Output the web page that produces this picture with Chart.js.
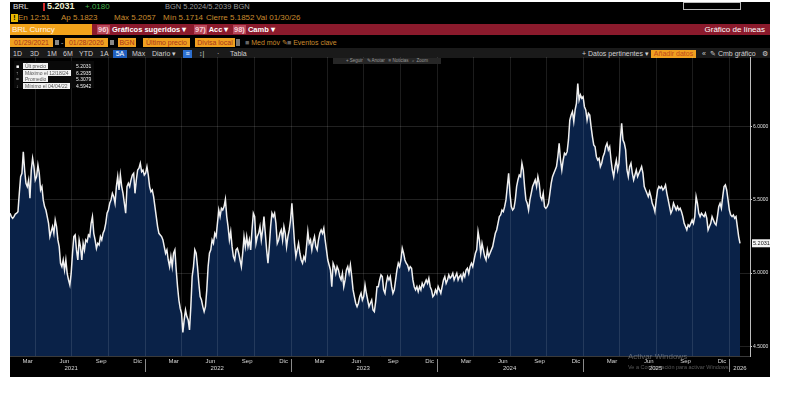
<!DOCTYPE html>
<html lang="es">
<head>
<meta charset="utf-8">
<title>BRL Curncy - Gráfico de líneas</title>
<script src="https://cdn.jsdelivr.net/npm/chart.js@4.4.1/dist/chart.umd.min.js"></script>
<style>
  html, body { margin: 0; padding: 0; background: #fff; }
  body { width: 800px; height: 393px; position: relative; overflow: hidden; font-family: 'Liberation Sans', Arial, sans-serif; }
  #term { position: absolute; left: 10px; top: 2px; width: 760px; height: 375px; background: #000; overflow: hidden; }
  .t { position: absolute; white-space: nowrap; line-height: 1; }
  .amb { color: #c98b2e; }
  .box { position: absolute; background: #f0a020; color: #a8341a; font-size: 7px; line-height: 9px; height: 9px; text-align: center; white-space: nowrap; }
  .r5 { position: absolute; top: 48px; color: #d0d0d0; font-size: 7px; line-height: 8px; white-space: nowrap; }
  #redbar { position: absolute; left: 0; top: 22px; width: 760px; height: 11px; background: #8b1a2c; }
  #row5 { position: absolute; left: 0; top: 46px; width: 760px; height: 10px; background: #1a1a1a; }
  #chartWrap { position: absolute; left: 0; top: 55px; width: 760px; height: 320px; }
  #legendBox { position: absolute; left: 4px; top: 4px; width: 80px; height: 27px; background: rgba(10,10,10,0.85); }
  .lg { position: absolute; left: 0; height: 6px; width: 80px; font-size: 5px; line-height: 6px; }
  .lg .mk { position: absolute; left: 2px; width: 5px; color: #aaa; }
  .lg .lb { position: absolute; left: 9px; background: #f2f2f2; color: #555; padding: 0 2px; }
  .lg .vl { position: absolute; left: 62px; color: #f0f0f0; }
  #tools { position: absolute; left: 323px; top: 1px; width: 108px; height: 6px; background: #262626; color: #9a9a9a; font-size: 4.5px; line-height: 6px; text-align: center; white-space: nowrap; }
  .wm { position: absolute; color: rgba(190,190,190,0.45); white-space: nowrap; }
  .rb { position: absolute; top: 24px; font-size: 7.5px; font-weight: bold; color: #fff; white-space: nowrap; line-height: 1; }
  .rb span { background: #b8485a; color: #f6d0d6; padding: 0 1px; }
</style>
</head>
<body>
<div id="term">
  <!-- fila 1 -->
  <div class="t" style="left:3px;top:1px;font-size:8px;color:#e0e0e0;">BRL</div>
  <div style="position:absolute;left:33px;top:1px;width:2px;height:8px;background:#d42a2a;"></div>
  <div class="t" style="left:37px;top:0px;font-size:9px;font-weight:bold;color:#eef0d2;">5.2031</div>
  <div class="t" style="left:75px;top:1px;font-size:8px;color:#45b04a;">+.0180</div>
  <div class="t" style="left:155px;top:1px;font-size:7.5px;color:#9a9a9a;">BGN 5.2024/5.2039 BGN</div>
  <div style="position:absolute;left:673px;top:0px;width:56px;height:6px;border:1px solid #bbb;"></div>

  <!-- fila 2 -->
  <div style="position:absolute;left:1px;top:12px;width:7px;height:8px;background:#e8b800;color:#000;font-size:7px;line-height:8px;text-align:center;font-weight:bold;">!</div>
  <div class="t amb" style="left:8px;top:12px;font-size:8px;">En 12:51</div>
  <div class="t amb" style="left:51px;top:12px;font-size:8px;">Ap 5.1823</div>
  <div class="t amb" style="left:104px;top:12px;font-size:8px;">Máx 5.2057</div>
  <div class="t amb" style="left:153px;top:12px;font-size:8px;">Mín 5.1714</div>
  <div class="t amb" style="left:196px;top:12px;font-size:8px;">Cierre 5.1852</div>
  <div class="t amb" style="left:246px;top:12px;font-size:8px;">Val 01/30/26</div>

  <!-- barra roja -->
  <div id="redbar"></div>
  <div class="box" style="left:0;top:22px;width:80px;height:11px;line-height:11px;text-align:left;padding-left:2px;font-size:8px;color:#fff3e6;background:#f2a31b;">BRL Curncy</div>
  <div class="rb" style="left:87px;"><span>96)</span> Gráficos sugeridos ▾</div>
  <div class="rb" style="left:184px;"><span>97)</span> Acc ▾</div>
  <div class="rb" style="left:223px;"><span>98)</span> Camb ▾</div>
  <div class="t" style="right:5px;top:24px;font-size:8px;color:#fff;">Gráfico de líneas</div>

  <!-- fila 4 -->
  <div class="box" style="left:0;top:36px;width:43px;">01/29/2021</div>
  <div style="position:absolute;left:45px;top:38px;width:4px;height:5px;background:#888;"></div>
  <div class="t" style="left:51px;top:37px;font-size:7px;color:#ccc;">-</div>
  <div class="box" style="left:55px;top:36px;width:43px;">01/28/2026</div>
  <div style="position:absolute;left:100px;top:38px;width:4px;height:5px;background:#888;"></div>
  <div class="box" style="left:108px;top:36px;width:18px;">BGN</div>
  <div class="box" style="left:133px;top:36px;width:47px;">Último precio</div>
  <div class="box" style="left:185px;top:36px;width:40px;">Divisa local</div>
  <div style="position:absolute;left:226px;top:37px;width:4px;height:7px;background:#777;"></div>
  <div class="t amb" style="left:235px;top:37px;font-size:7px;"><span style="color:#666;">■</span> Med móv ✎</div>
  <div class="t amb" style="left:277px;top:37px;font-size:7px;"><span style="color:#666;">■</span> Eventos clave</div>

  <!-- fila 5 -->
  <div id="row5"></div>
  <div class="r5" style="left:3px;">1D</div>
  <div class="r5" style="left:20px;">3D</div>
  <div class="r5" style="left:37px;">1M</div>
  <div class="r5" style="left:53px;">6M</div>
  <div class="r5" style="left:69px;">YTD</div>
  <div class="r5" style="left:90px;">1A</div>
  <div class="r5" style="left:103px;width:14px;background:#1f5fbf;color:#fff;text-align:center;">5A</div>
  <div class="r5" style="left:122px;">Máx</div>
  <div class="r5" style="left:142px;">Diario ▾</div>
  <div class="r5" style="left:173px;width:9px;background:#2c6fd0;color:#fff;text-align:center;">≡</div>
  <div class="r5" style="left:189px;">↕|</div>
  <div class="r5" style="left:207px;">·</div>
  <div class="r5" style="left:220px;">Tabla</div>
  <div class="r5" style="left:572px;">+ Datos pertinentes ▾</div>
  <div class="r5" style="left:641px;width:45px;background:#f0a020;color:#c0491a;text-align:center;">Añadir datos</div>
  <div class="r5" style="left:692px;">«</div>
  <div class="r5" style="left:700px;">✎ Cmb gráfico</div>
  <div class="r5" style="left:752px;">⚙</div>

  <div id="chartWrap">
    <canvas id="brlChart" width="760" height="320"></canvas>
    <div id="tools">+ Seguir &nbsp; ✎ Anotar &nbsp; ≡ Noticias &nbsp; ⌕ Zoom</div>
    <div id="legendBox"></div>
  </div>

  <div class="wm" style="left:618px;top:350px;font-size:8px;">Activar Windows</div>
  <div class="wm" style="left:618px;top:362px;font-size:5.5px;">Ve a Configuración para activar Windows.</div>
</div>

<script>
// BRL Curncy, ultimo precio, 01/29/2021 - 01/28/2026 (lecturas a intervalos regulares)
const startDate = '2021-01-29';
const endDate = '2026-01-28';

const brlClose = [
  5.408,5.385,5.374,5.385,5.403,5.408,5.419,
  5.544,5.658,5.681,5.828,5.703,5.612,5.590,5.635,5.510,5.703,5.783,5.726,5.635,5.658,5.737,5.681,5.567,5.590,
  5.499,5.453,5.430,5.385,5.339,5.249,5.283,5.317,5.271,5.362,5.317,5.226,5.180,5.067,5.044,5.089,5.021,5.089,
  4.998,4.953,4.919,4.998,5.135,5.249,5.260,5.158,5.089,5.226,5.180,5.089,5.203,5.158,5.226,5.214,5.260,5.249,
  5.339,5.385,5.271,5.226,5.169,5.203,5.192,5.249,5.226,5.271,5.294,5.339,5.408,5.430,5.476,5.499,5.544,5.521,
  5.476,5.590,5.658,5.567,5.669,5.590,5.544,5.476,5.408,5.590,5.612,5.590,5.635,5.669,5.681,5.544,5.635,5.703,
  5.715,5.749,5.692,5.703,5.669,5.681,5.726,5.669,5.590,5.555,5.567,5.521,5.453,5.385,5.317,5.271,5.260,5.249,
  5.226,5.180,5.135,5.158,5.089,5.044,5.112,5.044,5.135,5.158,5.021,4.907,4.816,4.760,4.726,4.5942,4.680,4.748,
  4.703,4.680,4.612,4.771,4.976,5.044,
  5.158,5.135,5.044,4.930,4.839,4.816,4.771,4.737,4.771,4.885,5.044,5.135,5.158,5.226,5.203,5.271,5.249,5.339,
  5.430,5.385,5.442,5.430,5.453,5.503,5.385,5.317,5.226,5.283,5.180,5.112,5.089,5.158,5.169,5.135,5.089,5.044,
  5.135,5.249,5.180,5.249,5.180,5.226,5.158,5.294,5.408,5.385,5.203,5.249,5.271,5.317,5.226,5.294,5.385,5.271,
  5.158,5.067,5.180,5.317,5.408,5.385,5.408,5.339,5.203,5.226,5.271,5.294,5.226,5.317,5.271,5.180,5.249,5.294,
  5.362,5.476,5.339,5.203,5.112,5.158,5.203,5.135,5.089,5.067,5.112,5.089,5.180,5.283,5.203,5.226,5.158,5.214,
  5.249,5.180,5.158,5.226,5.271,5.294,5.271,5.305,5.226,5.158,5.089,5.055,5.021,4.907,5.067,5.044,4.998,5.044,
  5.021,4.976,4.953,4.998,4.907,4.953,5.021,5.044,4.998,5.055,4.976,4.885,4.839,4.794,4.771,4.794,4.839,4.862,
  4.816,4.839,4.919,4.862,4.816,4.771,4.794,4.816,4.748,
  4.737,4.805,4.907,4.907,4.953,4.987,4.976,4.885,4.862,4.930,4.976,4.953,4.976,4.907,4.862,4.885,4.953,5.021,
  5.067,5.044,5.089,5.169,5.135,5.089,5.067,5.055,5.021,5.044,5.033,4.953,4.907,4.885,4.907,4.873,4.907,4.885,
  4.930,4.907,4.930,4.953,4.930,4.964,4.907,4.885,4.839,4.851,4.885,4.862,4.907,4.885,4.862,4.907,4.953,4.976,
  4.930,4.953,4.987,4.964,4.976,4.998,4.953,4.976,4.998,4.953,4.976,4.987,4.953,4.998,4.976,5.021,5.033,4.998,
  5.044,5.067,5.044,5.089,5.135,5.158,5.283,5.226,5.135,5.203,5.158,5.112,5.089,5.158,5.112,5.135,5.158,5.180,
  5.226,5.271,5.294,5.339,5.385,5.396,5.430,5.419,5.453,5.499,5.590,5.681,5.544,5.453,5.430,5.442,5.499,5.590,
  5.635,5.669,5.658,5.749,5.703,5.590,5.499,5.476,5.430,5.499,5.544,5.590,5.612,5.635,5.590,5.658,5.612,5.521,
  5.499,5.544,5.453,5.442,5.453,5.476,5.544,5.612,5.658,5.681,5.703,
  5.726,5.794,5.885,5.771,5.703,5.771,5.817,5.806,5.828,5.908,6.044,6.078,6.101,6.033,6.113,6.158,6.2935,6.181,
  6.215,6.192,6.203,6.135,6.113,6.044,6.090,6.078,5.999,5.931,5.874,5.862,5.794,5.771,5.783,5.726,5.749,5.794,
  5.817,5.862,5.885,5.840,5.862,5.771,5.703,5.658,5.726,5.771,5.703,5.749,5.908,6.022,5.908,5.885,5.840,5.703,
  5.658,5.726,5.749,5.681,5.635,5.669,5.703,5.658,5.681,5.703,5.726,5.681,5.590,5.567,5.544,5.521,5.555,5.521,
  5.476,5.453,5.419,5.499,5.567,5.590,5.578,5.590,5.567,5.578,5.601,5.544,5.499,5.453,5.408,5.430,5.476,5.453,
  5.430,5.453,5.430,5.442,5.419,5.385,5.339,5.317,5.294,5.328,5.317,5.339,5.362,5.339,5.385,5.521,5.476,5.408,
  5.385,5.408,5.396,5.385,5.408,5.374,5.294,5.317,5.339,5.385,5.362,5.339,5.328,5.385,5.453,5.476,5.442,5.521,
  5.590,5.601,5.567,5.499,5.430,5.396,5.385,5.396,5.374,5.385,5.317,5.249,5.2031
];

const monthLabels = ['Mar', 'Jun', 'Sep', 'Dic'];
const tickYears = [2021, 2022, 2023, 2024, 2025];
const yearLabels = ['2021', '2022', '2023', '2024', '2025', '2026'];
const yTicks = [4.5, 5.0, 5.5, 6.0];

const legendRows = [
    ['□', 'Últ precio', '5.2031'],
    ['↑', 'Máximo el 12/18/24', '6.2935'],
    ['=', 'Promedio', '5.3079'],
    ['↓', 'Mínimo el 04/04/22', '4.5942']
];

// --- helpers ---
const DAY = 86400000;
const toMs = s => Date.parse(s + 'T00:00:00Z');
const startMs = toMs(startDate);
const endMs = toMs(endDate);

// readings were taken at even steps across the period
const step = (endMs - startMs) / (brlClose.length - 1);
const points = brlClose.map((v, i) => ({ x: startMs + i * step, y: v }));

const monthTicks = [];
tickYears.forEach(y => {
    [2, 5, 8, 11].forEach((m, k) => monthTicks.push({ value: Date.UTC(y, m, 14), label: monthLabels[k] }));
});
const quarterLines = [];
tickYears.forEach(y => [3, 6, 9, 12].forEach(m => quarterLines.push(Date.UTC(y, m, 1))));
const yearStarts = tickYears.map(y => Date.UTC(y + 1, 0, 1));
const yearLabelPos = tickYears.map(y => Date.UTC(y, 6, 1)).concat([endMs]);

// legend overlay
const lb = document.getElementById('legendBox');
legendRows.forEach((r, i) => {
    const row = document.createElement('div');
    row.className = 'lg';
    row.style.top = (2 + i * 6.5) + 'px';
    row.innerHTML = '<span class="mk"' + (i === 0 ? ' style="color:#fff"' : '') + '>' + (i === 0 ? '■' : r[0]) + '</span>' +
        '<span class="lb">' + r[1] + '</span><span class="vl">' + r[2] + '</span>';
    lb.appendChild(row);
});

const FONT = "'Liberation Sans', Arial, sans-serif";

const overlay = {
    id: 'bbgOverlay',
    afterDatasetsDraw(chart) {
        const { ctx, chartArea, scales } = chart;
        ctx.save();
        ctx.strokeStyle = 'rgba(255,255,255,0.11)';
        ctx.lineWidth = 1;
        quarterLines.forEach(v => {
            const px = Math.round(scales.x.getPixelForValue(v)) + 0.5;
            if (px < chartArea.left || px > chartArea.right) return;
            ctx.beginPath();
            ctx.moveTo(px, chartArea.top);
            ctx.lineTo(px, chartArea.bottom);
            ctx.stroke();
        });
        ctx.restore();
    },
    afterDraw(chart) {
        const { ctx, chartArea, scales } = chart;
        ctx.save();
        // year separators
        ctx.strokeStyle = '#8a8a8a';
        ctx.lineWidth = 1;
        yearStarts.forEach(v => {
            const px = Math.round(scales.x.getPixelForValue(v)) + 0.5;
            if (px > chartArea.right) return;
            ctx.beginPath();
            ctx.moveTo(px, chartArea.bottom + 3);
            ctx.lineTo(px, chartArea.bottom + 16);
            ctx.stroke();
        });
        // year labels
        ctx.fillStyle = '#d8d8d8';
        ctx.font = '6px ' + FONT;
        ctx.textAlign = 'center';
        ctx.textBaseline = 'middle';
        yearLabels.forEach((t, i) => {
            ctx.fillText(t, scales.x.getPixelForValue(yearLabelPos[i]), chartArea.bottom + 12);
        });
        // last price tag
        const last = brlClose[brlClose.length - 1];
        const py = scales.y.getPixelForValue(last);
        ctx.fillStyle = '#f4f4f4';
        ctx.fillRect(chartArea.right + 2, py - 4, 18, 8);
        ctx.fillStyle = '#111';
        ctx.font = '5.5px ' + FONT;
        ctx.textAlign = 'left';
        ctx.fillText(last.toFixed(4), chartArea.right + 3, py + 0.5);
        ctx.restore();
    }
};

const zeroPad = s => { s.paddingTop = 0; s.paddingBottom = 0; s.paddingLeft = 0; s.paddingRight = 0; };

new Chart(document.getElementById('brlChart'), {
    type: 'line',
    data: {
        datasets: [{
            label: 'BRL Curncy',
            data: points,
            borderColor: '#f0f0f0',
            borderWidth: 1.5,
            backgroundColor: '#0a2248',
            fill: 'start',
            pointRadius: 0,
            tension: 0
        }]
    },
    options: {
        responsive: false,
        animation: false,
        layout: { padding: 0 },
        plugins: { legend: { display: false }, tooltip: { enabled: false } },
        scales: {
            x: {
                type: 'linear',
                min: startMs,
                max: endMs + 25 * DAY,
                grid: { display: false, drawTicks: false },
                border: { display: true, color: '#3a3a3a' },
                afterBuildTicks: s => { s.ticks = monthTicks.map(t => ({ value: t.value })); },
                afterFit: s => { s.height = 21; zeroPad(s); },
                ticks: {
                    autoSkip: false,
                    maxRotation: 0,
                    padding: 2,
                    color: '#d8d8d8',
                    font: { size: 6, family: FONT },
                    callback: (v, i) => monthTicks[i] ? monthTicks[i].label : ''
                }
            },
            y: {
                position: 'right',
                min: 4.434,
                max: 6.474,
                z: 1,
                afterBuildTicks: s => { s.ticks = yTicks.map(v => ({ value: v })); },
                afterFit: s => { s.width = 20; zeroPad(s); },
                grid: { color: 'rgba(255,255,255,0.13)', tickColor: '#cfcfcf', tickLength: 2 },
                border: { display: true, color: '#bdbdbd' },
                ticks: {
                    padding: 1,
                    color: '#e0e0e0',
                    font: { size: 5, family: FONT },
                    callback: v => Number(v).toFixed(4)
                }
            }
        }
    },
    plugins: [overlay]
});
</script>
</body>
</html>
